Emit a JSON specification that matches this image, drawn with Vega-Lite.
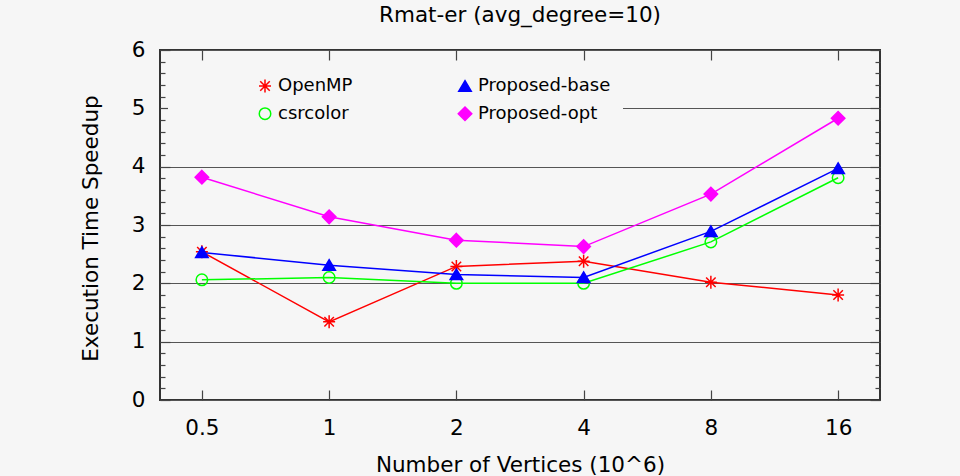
{
  "$schema": "https://vega.github.io/schema/vega-lite/v6.json",
  "width": 720,
  "height": 350,
  "autosize": {"type": "none"},
  "padding": {"left": 160, "top": 50, "right": 80, "bottom": 76},
  "background": "#f6f6f6",
  "title": {
    "text": "Rmat-er (avg_degree=10)",
    "anchor": "middle",
    "frame": "group",
    "fontSize": 21.5,
    "fontWeight": "normal",
    "font": "DejaVu Sans",
    "color": "#000",
    "baseline": "alphabetic",
    "offset": 8,
    "dy": 12
  },
  "data": {
    "values": [
      {"series": "OpenMP", "x": 0.5, "y": 2.54},
      {"series": "OpenMP", "x": 1, "y": 1.34},
      {"series": "OpenMP", "x": 2, "y": 2.29},
      {"series": "OpenMP", "x": 4, "y": 2.38},
      {"series": "OpenMP", "x": 8, "y": 2.02},
      {"series": "OpenMP", "x": 16, "y": 1.80},
      {"series": "csrcolor", "x": 0.5, "y": 2.06},
      {"series": "csrcolor", "x": 1, "y": 2.10},
      {"series": "csrcolor", "x": 2, "y": 2.00},
      {"series": "csrcolor", "x": 4, "y": 2.00},
      {"series": "csrcolor", "x": 8, "y": 2.71},
      {"series": "csrcolor", "x": 16, "y": 3.81},
      {"series": "Proposed-base", "x": 0.5, "y": 2.53},
      {"series": "Proposed-base", "x": 1, "y": 2.31},
      {"series": "Proposed-base", "x": 2, "y": 2.15},
      {"series": "Proposed-base", "x": 4, "y": 2.10},
      {"series": "Proposed-base", "x": 8, "y": 2.89},
      {"series": "Proposed-base", "x": 16, "y": 3.97},
      {"series": "Proposed-opt", "x": 0.5, "y": 3.82},
      {"series": "Proposed-opt", "x": 1, "y": 3.14},
      {"series": "Proposed-opt", "x": 2, "y": 2.74},
      {"series": "Proposed-opt", "x": 4, "y": 2.63},
      {"series": "Proposed-opt", "x": 8, "y": 3.53},
      {"series": "Proposed-opt", "x": 16, "y": 4.83}
    ]
  },
  "resolve": {"axis": {"x": "independent", "y": "independent"}},
  "layer": [
    {
      "mark": {"type": "line", "strokeWidth": 1.5},
      "encoding": {
        "x": {
          "field": "x", "type": "quantitative",
          "scale": {"type": "log", "domain": [0.398, 20.1], "nice": false},
          "axis": {
            "orient": "bottom", "values": [0.5, 1, 2, 4, 8, 16], "format": "~g",
            "ticks": false, "labelPadding": 34, "labelBaseline": "alphabetic", "labelFlush": false,
            "grid": false, "title": "Number of Vertices (10^6)",
            "titleBaseline": "alphabetic", "titleY": 71.5
          }
        },
        "y": {
          "field": "y", "type": "quantitative",
          "scale": {"domain": [0, 6], "nice": false, "zero": true},
          "axis": {
            "orient": "left", "values": [0, 1, 2, 3, 4, 5, 6],
            "ticks": false, "labelPadding": 15, "labelFlush": false,
            "grid": true, "gridColor": "#555", "gridWidth": 1.2,
            "title": "Execution Time Speedup", "titleBaseline": "alphabetic",
            "titleAngle": -90, "titleX": -63, "titleY": 178
          }
        },
        "stroke": {
          "field": "series", "type": "nominal",
          "scale": {"domain": ["OpenMP", "csrcolor", "Proposed-base", "Proposed-opt"], "range": ["#ff0000", "#00ff00", "#0000ff", "#ff00ff"]}
        }
      }
    },
    {
      "mark": {"type": "point", "size": 100, "strokeWidth": 1.5, "opacity": 1},
      "encoding": {
        "x": {
          "field": "x", "type": "quantitative",
          "axis": {"orient": "bottom", "values": [0.5, 1, 2, 4, 8, 16], "labels": false, "tickSize": -10, "grid": false, "title": null}
        },
        "y": {
          "field": "y", "type": "quantitative",
          "axis": {
            "orient": "left",
            "values": [0,0.2,0.4,0.6,0.8,1,1.2,1.4,1.6,1.8,2,2.2,2.4,2.6,2.8,3,3.2,3.4,3.6,3.8,4,4.2,4.4,4.6,4.8,5,5.2,5.4,5.6,5.8,6],
            "labels": false, "grid": false, "title": null,
            "tickSize": {"condition": {"test": "abs(datum.value - round(datum.value)) < 0.01", "value": -10}, "value": -5}
          }
        },
        "stroke": {
          "field": "series", "type": "nominal"
        },
        "fill": {
          "field": "series", "type": "nominal",
          "scale": {"domain": ["OpenMP", "csrcolor", "Proposed-base", "Proposed-opt"], "range": ["#ff0000", "transparent", "#0000ff", "#ff00ff"]}
        },
        "shape": {
          "field": "series", "type": "nominal",
          "scale": {
            "domain": ["OpenMP", "csrcolor", "Proposed-base", "Proposed-opt"],
            "range": [
              "M-1.2,0H1.2M0,-1.3V1.3M-0.95,-0.95L0.95,0.95M-0.95,0.95L0.95,-0.95",
              "M-1.15,0A1.15,1.15 0 1 0 1.15,0A1.15,1.15 0 1 0 -1.15,0Z",
              "M0,-1.1L1.25,1L-1.25,1Z",
              "M0,-1.35L1.35,0L0,1.35L-1.35,0Z"
            ]
          },
          "legend": {
            "orient": "none", "legendX": 8, "legendY": 14.7,
            "direction": "vertical", "columns": 2, "columnPadding": 102, "rowPadding": 8,
            "padding": 12, "fillColor": "#f6f6f6", "strokeColor": null,
            "title": "\u00a0", "titleOrient": "left", "titlePadding": 76, "titleFontSize": 18,
            "labelFont": "DejaVu Sans", "labelFontSize": 18, "labelColor": "#000", "labelLimit": 300,
            "symbolSize": 100, "symbolStrokeWidth": 1.5
          }
        }
      }
    },
    {
      "mark": {"type": "point", "opacity": 0},
      "encoding": {
        "x": {
          "field": "x", "type": "quantitative",
          "axis": {"orient": "top", "values": [0.5, 1, 2, 4, 8, 16], "labels": false, "tickSize": -10, "grid": false, "title": null}
        },
        "y": {
          "field": "y", "type": "quantitative",
          "axis": {
            "orient": "right",
            "values": [0,0.2,0.4,0.6,0.8,1,1.2,1.4,1.6,1.8,2,2.2,2.4,2.6,2.8,3,3.2,3.4,3.6,3.8,4,4.2,4.4,4.6,4.8,5,5.2,5.4,5.6,5.8,6],
            "labels": false, "grid": false, "title": null,
            "tickSize": {"condition": {"test": "abs(datum.value - round(datum.value)) < 0.01", "value": -10}, "value": -5}
          }
        }
      }
    }
  ],
  "config": {
    "font": "DejaVu Sans",
    "view": {"stroke": "#333", "strokeWidth": 2},
    "axis": {
      "domain": false,
      "labelFont": "DejaVu Sans", "labelFontSize": 21.5, "labelColor": "#000",
      "titleFont": "DejaVu Sans", "titleFontSize": 21.5, "titleFontWeight": "normal", "titleColor": "#000",
      "tickColor": "#444", "tickWidth": 1.2
    }
  }
}
